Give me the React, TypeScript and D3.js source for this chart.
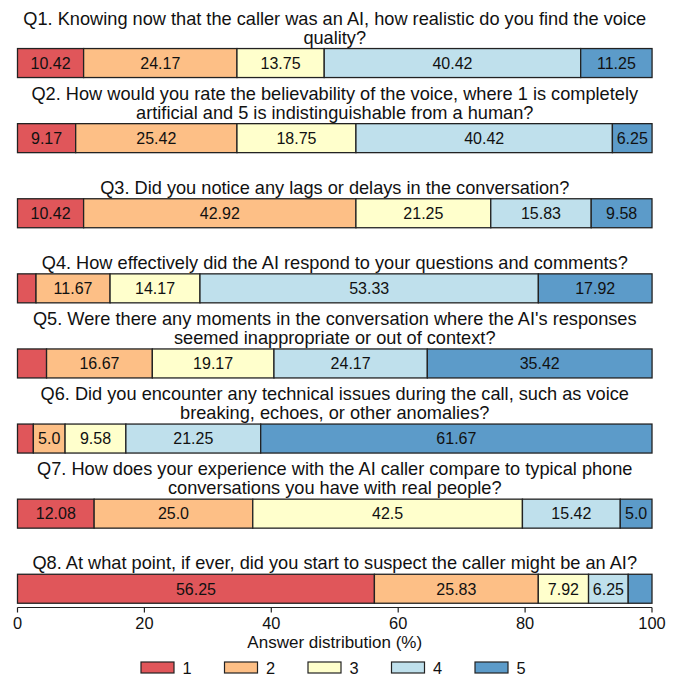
import React from "react";
import * as d3 from "d3";

const questions: string[][] = [
  ["Q1. Knowing now that the caller was an AI, how realistic do you find the voice", "quality?"],
  ["Q2. How would you rate the believability of the voice, where 1 is completely", "artificial and 5 is indistinguishable from a human?"],
  ["Q3. Did you notice any lags or delays in the conversation?"],
  ["Q4. How effectively did the AI respond to your questions and comments?"],
  ["Q5. Were there any moments in the conversation where the AI's responses", "seemed inappropriate or out of context?"],
  ["Q6. Did you encounter any technical issues during the call, such as voice", "breaking, echoes, or other anomalies?"],
  ["Q7. How does your experience with the AI caller compare to typical phone", "conversations you have with real people?"],
  ["Q8. At what point, if ever, did you start to suspect the caller might be an AI?"],
];

const answers = ["1", "2", "3", "4", "5"];

const q1 = [10.42, 24.17, 13.75, 40.42, 11.25];
const q2 = [9.17, 25.42, 18.75, 40.42, 6.25];
const q3 = [10.42, 42.92, 21.25, 15.83, 9.58];
const q4 = [2.92, 11.67, 14.17, 53.33, 17.92];
const q5 = [4.58, 16.67, 19.17, 24.17, 35.42];
const q6 = [2.5, 5.0, 9.58, 21.25, 61.67];
const q7 = [12.08, 25.0, 42.5, 15.42, 5.0];
const q8 = [56.25, 25.83, 7.92, 6.25, 3.75];
const values = [q1, q2, q3, q4, q5, q6, q7, q8];

const xTicks = [0, 20, 40, 60, 80, 100];

const colors = ["#e0565a", "#fdbf86", "#ffffcc", "#bfe0ec", "#5c9bc9"];

const W = 677;
const H = 679;
const sans = "'Liberation Sans', Arial, Helvetica, sans-serif";

function fmt(v: number): string {
  return Number.isInteger(v) ? v.toFixed(1) : String(v);
}

export default function App() {
  const x = d3.scaleLinear().domain([0, 100]).range([17.5, 652]);
  const y = d3
    .scaleBand<number>()
    .domain(d3.range(questions.length))
    .range([25.5, 626.3])
    .paddingInner(0.614)
    .paddingOuter(0.307);
  const color = d3.scaleOrdinal<string, string>().domain(answers).range(colors);
  const cx = (x(0) + x(100)) / 2;
  const axisY = 607.5;
  const legendX = d3.scalePoint<string>().domain(answers).range([141, 475]);

  return (
    <svg width={W} height={H} style={{ position: "absolute", left: 0, top: 0, background: "#fff" }}>
      {values.map((row, qi) => {
        const top = y(qi)!;
        const bh = y.bandwidth();
        const stacks = d3.cumsum(row);
        const lines = questions[qi];
        return (
          <g key={qi}>
            {lines.map((ln, li) => (
              <text
                key={li}
                x={cx}
                y={top - 5 - (lines.length - 1 - li) * 18.8}
                textAnchor="middle"
                fontFamily={sans}
                fontSize={18.2}
                fill="#111"
              >
                {ln}
              </text>
            ))}
            {row.map((v, i) => {
              const x0 = x(stacks[i] - v);
              const x1 = x(stacks[i]);
              return (
                <g key={i}>
                  <rect
                    x={x0}
                    y={top}
                    width={x1 - x0}
                    height={bh}
                    fill={color(answers[i])}
                    stroke="#222"
                    strokeWidth={1.3}
                  />
                  {v >= 5 && (
                    <text
                      x={(x0 + x1) / 2}
                      y={top + bh / 2}
                      dy="0.36em"
                      textAnchor="middle"
                      fontFamily={sans}
                      fontSize={16}
                      fill="#111"
                    >
                      {fmt(v)}
                    </text>
                  )}
                </g>
              );
            })}
          </g>
        );
      })}
      <g>
        <line x1={x(0)} x2={x(100)} y1={axisY} y2={axisY} stroke="#222" strokeWidth={1.2} />
        {xTicks.map((t) => (
          <g key={t}>
            <line x1={x(t)} x2={x(t)} y1={axisY} y2={axisY + 5} stroke="#222" strokeWidth={1.2} />
            <text
              x={x(t)}
              y={628.5}
              textAnchor="middle"
              fontFamily={sans}
              fontSize={16.4}
              fill="#111"
            >
              {t}
            </text>
          </g>
        ))}
        <text x={cx} y={648} textAnchor="middle" fontFamily={sans} fontSize={17} fill="#111">
          Answer distribution (%)
        </text>
      </g>
      <g>
        {answers.map((a) => (
          <g key={a}>
            <rect
              x={legendX(a)!}
              y={662}
              width={33}
              height={11}
              fill={color(a)}
              stroke="#222"
              strokeWidth={1.2}
            />
            <text
              x={legendX(a)! + 46}
              y={673.5}
              textAnchor="middle"
              fontFamily={sans}
              fontSize={16.4}
              fill="#111"
            >
              {a}
            </text>
          </g>
        ))}
      </g>
    </svg>
  );
}
